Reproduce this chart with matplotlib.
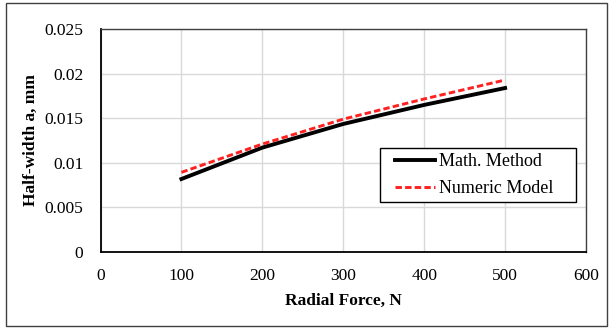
import matplotlib
matplotlib.use("Agg")
import matplotlib.pyplot as plt
from matplotlib.patches import Rectangle

force = [100, 200, 300, 400, 500]
math_method = [0.00817, 0.0117, 0.01436, 0.0165, 0.0184]
numeric_model = [0.00892, 0.0121, 0.0149, 0.01717, 0.0193]

plt.rcParams['font.family'] = ['Liberation Serif', 'DejaVu Serif']

W, H = 612, 331
fig = plt.figure(figsize=(W/100, H/100), dpi=100)
ax = fig.add_axes([100.5/W, 1 - 251.7/H, (586 - 100.5)/W, (251.7 - 29.3)/H])

ax.plot(force, math_method, color='black', lw=2.8, label='Math. Method', zorder=3)
ax.plot(force, numeric_model, color='#ff2020', lw=2.1, ls=(0, (2.2, 1.1)), label='Numeric Model', zorder=4)

ax.set_xlim(0, 600)
ax.set_ylim(0, 0.025)
ax.set_xticks([0, 100, 200, 300, 400, 500, 600])
ax.set_yticks([0, 0.005, 0.01, 0.015, 0.02, 0.025])
ax.set_yticklabels(['0', '0.005', '0.01', '0.015', '0.02', '0.025'])
ax.grid(True, color='#d9d9d9', lw=1.0)
ax.set_axisbelow(True)
ax.tick_params(length=0, labelsize=12.5)
ax.tick_params(axis='y', pad=12.5)
ax.tick_params(axis='x', pad=12)
for s in ['top', 'right']:
    ax.spines[s].set_color('#404040')
    ax.spines[s].set_linewidth(1.0)
for s in ['left', 'bottom']:
    ax.spines[s].set_color('black')
    ax.spines[s].set_linewidth(1.3)

ax.set_xlabel('Radial Force, N', fontsize=12.5, fontweight='bold', labelpad=6)
ax.set_ylabel('Half-width a, mm', fontsize=12.5, fontweight='bold', labelpad=4)

# legend frame drawn separately (Excel-like padding)
fig.patches.append(Rectangle((380/W, 1 - 202/H), (576 - 380)/W, (202 - 148)/H,
                             transform=fig.transFigure, facecolor='white',
                             edgecolor='black', lw=1.0, zorder=5))
leg = fig.legend(handles=ax.get_lines(), loc='center left',
                 bbox_to_anchor=(395/W, 1 - 175/H), bbox_transform=fig.transFigure,
                 fontsize=13, frameon=False,
                 handlelength=2.2, handletextpad=0.25, borderpad=0, labelspacing=0.55,
                 borderaxespad=0)
leg.set_zorder(6)

fig.patches.append(Rectangle((5.5/W, 1 - 326/H), (607 - 5.5)/W, (326 - 3.3)/H,
                             transform=fig.transFigure, fill=False, edgecolor='#404040', lw=1.0))

fig.savefig('out.png', dpi=100)
